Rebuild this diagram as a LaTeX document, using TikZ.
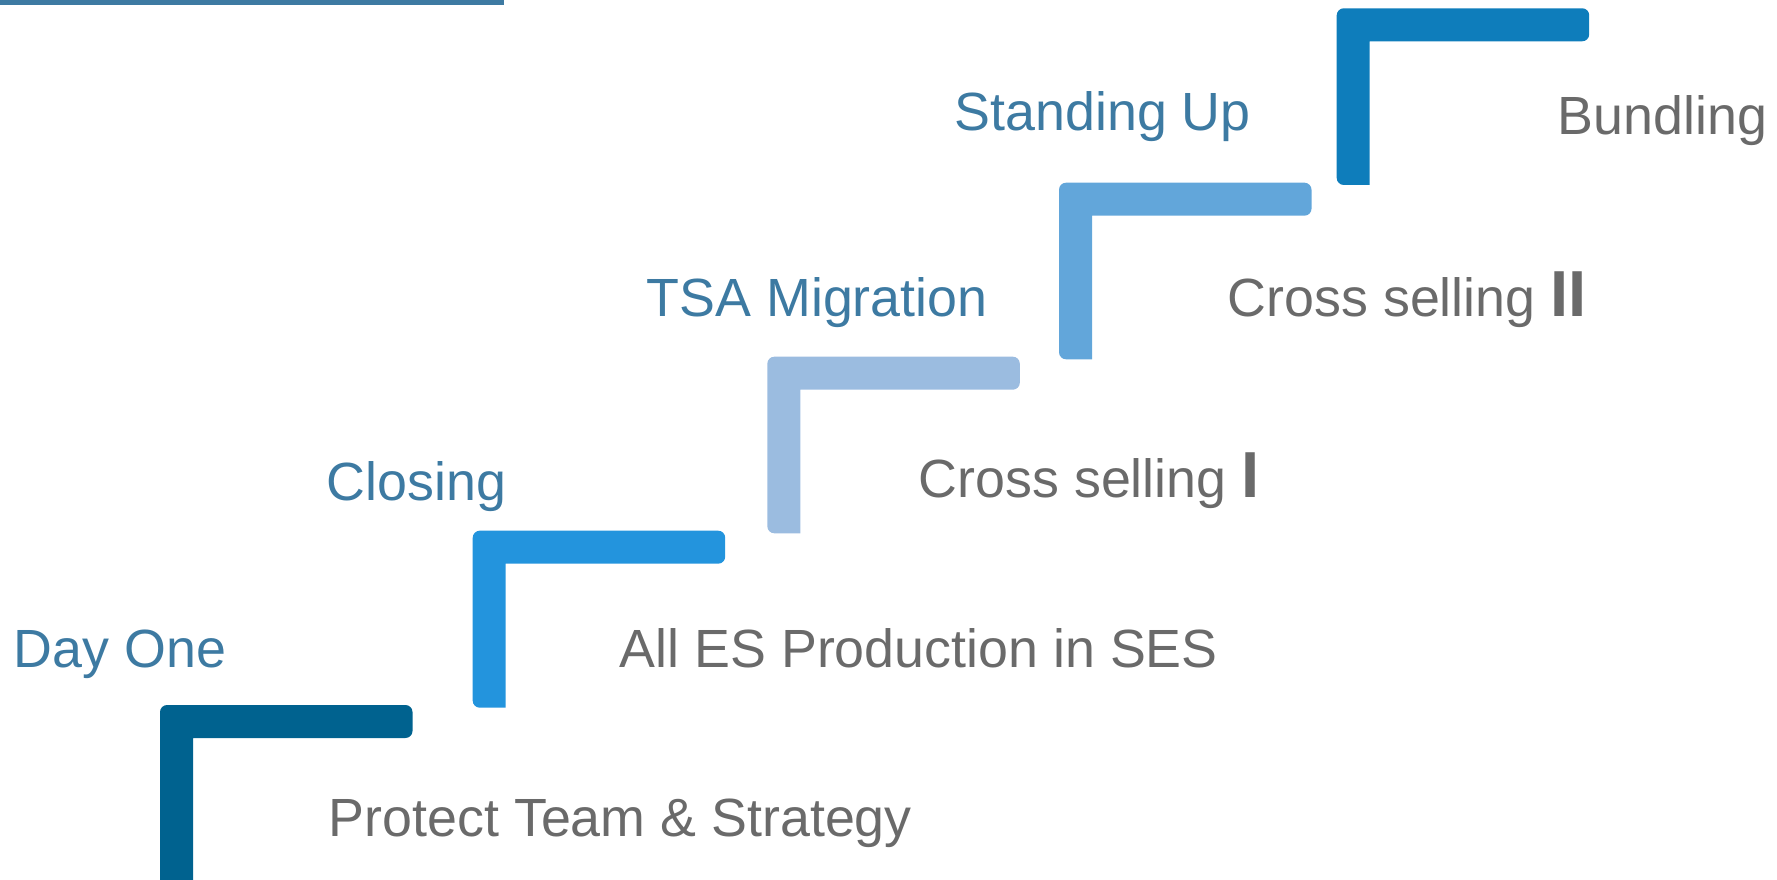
\documentclass[tikz,border=0pt]{standalone}
\usepackage{fontspec}
\setmainfont{Liberation Sans}
\definecolor{stageblue}{HTML}{3D7AA2}
\definecolor{taskgray}{HTML}{6A6A6A}
\definecolor{stepA}{HTML}{00628F}
\definecolor{stepB}{HTML}{2394DD}
\definecolor{stepC}{HTML}{9BBCE0}
\definecolor{stepD}{HTML}{62A6DA}
\definecolor{stepE}{HTML}{0E7DBB}
\newcommand{\romnum}[1]{{\fontsize{18.5}{20}\selectfont\bfseries #1}}
\tikzset{
  stage/.style={anchor=base west,inner sep=0pt,text=stageblue,font=\fontsize{15.3}{18}\selectfont},
  task/.style={anchor=base west,inner sep=0pt,text=taskgray,font=\fontsize{15.3}{18}\selectfont}
}
\begin{document}
\begin{tikzpicture}[x=0.01cm,y=-0.01cm]
  \useasboundingbox (0,0) rectangle (1777,880);
  % rule at the top
  \fill[stageblue] (0,0) rectangle (504,5);
  % the five steps (corner x, corner y, bottom, colour)
  \foreach \sx/\sy/\sb/\col in {160/705/895/stepA, 472.7/530.7/707.7/stepB,
      767.3/356.7/533.3/stepC, 1059/182.7/359.3/stepD, 1336.7/8.3/185/stepE}
    \fill[\col,rounded corners=2] (\sx,\sy) -- (\sx+252.5,\sy) -- (\sx+252.5,\sy+33)
      [sharp corners] -- (\sx+33,\sy+33) -- (\sx+33,\sb) [rounded corners=2] -- (\sx,\sb) -- cycle;
  % stage names
  \node[stage] (dayone) at (13,667) {Day One};
  \node[stage] (closing) at (326,501) {Closing};
  \node[stage] (tsa) at (646,317) {TSA Migration};
  \node[stage] (standup) at (954,131) {Standing Up};
  % what happens on each step
  \node[task] (protect) at (328,836) {Protect Team \& Strategy};
  \node[task] (allprod) at (619,667) {All ES Production in SES};
  \node[task] (xsell1) at (918,498) {Cross selling \romnum{I}};
  \node[task] (xsell2) at (1227,317) {Cross selling \romnum{II}};
  \node[task] (bundle) at (1557,135) {Bundling};
\end{tikzpicture}
\end{document}
